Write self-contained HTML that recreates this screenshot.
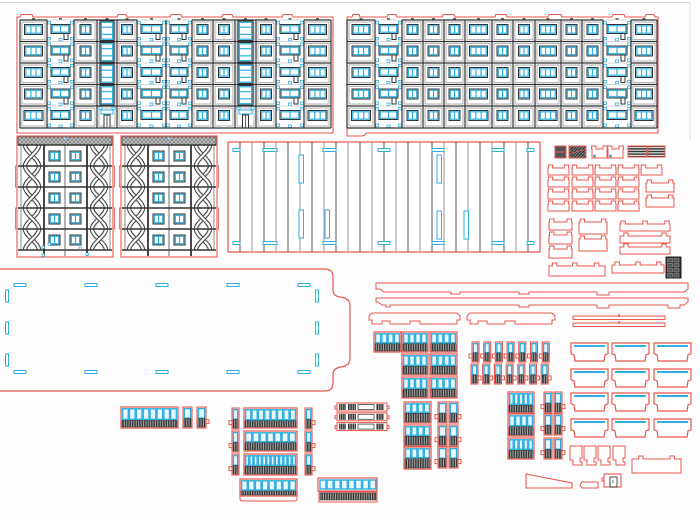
<!DOCTYPE html>
<html><head><meta charset="utf-8">
<style>html,body{margin:0;padding:0;background:#fdfdfd;width:700px;height:515px;overflow:hidden}svg{display:block}</style>
</head><body>
<svg id="s" width="700" height="515" viewBox="0 0 700 515" xmlns="http://www.w3.org/2000/svg">
<defs>
<pattern id="rail" width="2.4" height="40" patternUnits="userSpaceOnUse"><rect width="2.4" height="40" fill="#3a3a3a"/><rect x="1.4" width="0.9" height="40" fill="#b0b0b0"/></pattern>
<pattern id="hatch" width="4" height="4" patternUnits="userSpaceOnUse"><rect width="4" height="4" fill="#c4c4c4"/><path d="M0,4L4,0M0,0L4,4" stroke="#666" stroke-width="0.6"/></pattern>
<pattern id="stripe" width="4" height="2.6" patternUnits="userSpaceOnUse"><rect width="4" height="2.6" fill="#ddd"/><rect width="4" height="1.4" fill="#333"/></pattern>
<pattern id="diag" width="3" height="3" patternUnits="userSpaceOnUse"><rect width="3" height="3" fill="#777"/><path d="M0,3L3,0" stroke="#222" stroke-width="0.8"/></pattern>
</defs>
<g id="g"></g>
</svg>
<script>
const R='#e9564e',C='#2fb0e0',D='#333';
let s='';
const r=(x,y,w,h,st,sw,f)=>{s+=`<rect x="${x}" y="${y}" width="${w}" height="${h}" fill="${f||'none'}" stroke="${st||'none'}" stroke-width="${sw||1}"/>`};
const l=(x1,y1,x2,y2,st,sw)=>{s+=`<line x1="${x1}" y1="${y1}" x2="${x2}" y2="${y2}" stroke="${st}" stroke-width="${sw||1}"/>`};
const p=(d,st,sw,f)=>{s+=`<path d="${d}" fill="${f||'none'}" stroke="${st||'none'}" stroke-width="${sw||1}"/>`};

function win(x,y,w,h,n){r(x,y,w,h,D,1,'#fff');r(x+1.3,y+1.3,w-2.6,h-2.6,C,1.2);for(let i=1;i<n;i++){const xx=x+1.3+i*(w-2.6)/n;l(xx,y+1.3,xx,y+h-1.3,C,1.2);}}

l(0,2.5,690,2.5,'#d6d6d6',1);l(690,2.5,690,140,'#e0e0e0',1);

function facade(xs,ys,types){
  const y0=ys[0],y1=ys[ys.length-1];
  for(let i=0;i<xs.length-1;i++){
    const x=xs[i],w=xs[i+1]-x,t=types[i];
    r(x+w/2-1.5,y0-2,3,2,null,0,'#666');
    for(let j=0;j<ys.length-1;j++){
      const y=ys[j],h=ys[j+1]-y,last=(j===ys.length-2);
      if(t!=='s'){r(x+2,y+2,w-4,h-4,'#b8b8b8',1.1);l(x,y,x+w,y,D,1.2);}
      if(t==='w3'||t==='w2'){
        let ww=t==='w3'?Math.min(w-9,18):Math.min(w-9,11);
        if(last&&t==='w3')ww=Math.min(w-8,19);
        win(x+(w-ww)/2,y+4.5,ww,10,t==='w3'?3:2);
      }else if(t==='s'){
        l(x,y,x+w,y,'#c8c8c8',0.8);
        win(x+4,y+4.5,w-8,9,2);
        if(!last)r(x+w-10,y+13.5,4,6,D,1,'#fff');
        [[x+0.5,y+1.5],[x+w-3.5,y+1.5],[x+0.5,y+h-4],[x+w-3.5,y+h-4],[x+w/2-1.5,y+h-3]].forEach(([a,b])=>r(a,b,3,2.4,C,0.8,'#fff'));
      }else if(t==='st'){
        if(last){
          r(x+4,y+4,w-8,4,C,1,'#fff');
          r(x+w/2-3,y+9,6,h-9,D,1,'#fff');l(x+w/2,y+9,x+w/2,y+h,D,0.8);
          r(x+2,y+1,3,2.4,C,0.8,'#fff');r(x+w-5,y+1,3,2.4,C,0.8,'#fff');
        }else{
          r(x+3,y+1,w-6,h-2,D,1,'#fff');r(x+4.3,y+2.3,w-8.6,h-4.6,C,1.3);
          l(x+4,y+h/3,x+w-4,y+h/3,C,1.2);l(x+4,y+2*h/3,x+w-4,y+2*h/3,C,1.2);
        }
      }
    }
  }
  for(const x of xs)l(x,y0,x,y1,D,1.2);
  l(xs[0],y1,xs[xs.length-1],y1,D,1.2);
}

(function(){
  let d='M17,133 V17';
  [[20,33],[117,127],[170,182],[222,233],[282,293]].forEach(([a,b])=>{d+=` H${a} L${a+1},14.5 H${b-1} L${b},17`;});
  d+=' H333 V133 Z';
  p(d,R,1.1,'#fff');
  facade([20,47,74,97,117,137,166,192,213,235,256,276,304,331],[20,41.5,63,84.5,106,128],
    ['w3','s','w2','st','w2','s','s','w2','w2','st','w2','s','w3']);
})();

(function(){
  let d='M347,136 V17';
  [[352,360],[387,397],[442,455],[495,507],[548,562],[612,625],[645,655]].forEach(([a,b])=>{d+=` H${a} L${a+1},14.5 H${b-1} L${b},17`;});
  d+=' H658 V133 H366 Q365,136 362,136 Z';
  p(d,R,1.1,'#fff');
  facade([347,375,402,423,444,465,492,513,535,561,582,603,631,657],[20,41.5,63,84.5,106,128],
    ['w3','s','w2','w2','w2','w3','w2','w2','w3','w2','w2','s','w3']);
})();

function tower(x0,dots){
  const x1=x0+94,ys=[145,166,187,208,229,250];
  r(x0-1,136,96,121,R,1.1,'#fff');
  r(x0-2.5,166,1.5,21,R,0.8);r(x1+1,166,1.5,21,R,0.8);r(x0-2.5,208,1.5,21,R,0.8);r(x1+1,208,1.5,21,R,0.8);
  r(x0,137,94,8,'#555',0.8,'url(#hatch)');
  r(x0+46,137.5,2,2,C,0.6,'#fff');
  const braid=(a,b)=>{
    const h=21,k=7;
    const c1=[],c2=[];
    for(let j=0;j<5;j++){
      const y=145+j*h;
      const A=j%2?b:a,B=j%2?a:b;
      c1.push(`M${A},${y} C${A},${y+k} ${B},${y+h-k} ${B},${y+h}`);
      c2.push(`M${B},${y} C${B},${y+k} ${A},${y+h-k} ${A},${y+h}`);
    }
    [c1,c2].forEach(c=>{p(c.join(' '),'#4a4a4a',4.4);p(c.join(' '),'#fff',2.2);});
  };
  braid(x0+7,x0+21);braid(x0+74,x0+88);
  l(x0+3,145,x0+3,250,'#888',1);l(x1-2,145,x1-2,250,'#888',1);
  l(x0+26,145,x0+26,256,D,1.8);l(x0+47,145,x0+47,256,'#777',1.1);l(x0+69,145,x0+69,256,D,1.8);
  for(let j=0;j<5;j++){const y=ys[j];win(x0+31,y+6,11,10,2);win(x0+52,y+6,11,10,2);}
  ys.forEach(y=>l(x0,y,x1,y,D,1.6));
  if(dots){[[x0+24,246],[x0+30,243],[x0+24,254],[x0+61,247],[x0+68,253]].forEach(([a,b])=>r(a,b,2.4,2.4,C,0.7,'#fff'));}
}
tower(18,true);tower(122,false);

r(228,142,312,110,R,1.2,'#fff');
for(let i=0;i<25;i++){const x=240+i*12;l(x,142,x,252,i%2?'#a0a0a0':'#606060',1.1);}
[[233,240],[263,277],[323,336],[378,390],[432,444],[492,504],[527,534]].forEach(([a,b])=>{r(a,148.5,b-a,3,C,1,'#fff');r(a,241.5,b-a,3,C,1,'#fff');});
[[299,155],[299,210],[325,210],[437,155],[437,211],[464,211]].forEach(([x,y])=>r(x,y,4.5,28,C,1,'#fff'));

p('M-2,269 H325 Q333,269 333,277 V290 Q333,296 340,297 Q350,298 350,306 V358 Q350,366 341,367 Q333,368 333,375 V383 Q333,391 325,391 H-2',R,1.2);
[20,91,162,233,304].forEach(c=>{r(c-6,283.5,12,3,C,1,'#fff');r(c-6,370.5,12,3,C,1,'#fff');});
[296,328,360].forEach(c=>{r(5.5,c-6,3,12,C,1,'#fff');r(315.5,c-6,3,12,C,1,'#fff');});

function tab(x,y,w,h,tabs){
  tabs=tabs||[0.12,0.88];
  let d=`M${x},${y+3}`;
  tabs.forEach(t=>{const cx=x+w*t;d+=` H${cx-2.2} V${y} H${cx+2.2} V${y+3}`;});
  d+=` H${x+w} V${y+h} H${x} Z`;
  p(d,R,1,'#fff');
}
r(555,146,11,12,R,1,'#555');l(555,152,566,152,R,1);
r(569,146,17,12,R,1,'url(#diag)');l(569,154,586,149,R,0.8);
tab(592,146,15,12);tab(608,146,15,12);
r(593.5,155,2,2,C,0.6,C);r(609.5,155,2,2,C,0.6,C);
r(628,146,19,11,R,1,'url(#stripe)');r(648,146,17,11,R,1,'url(#stripe)');
[548,572,595,618,641].forEach(x=>tab(x,165,21,10));
[177,189,201].forEach(y=>[548,572,595,618].forEach(x=>tab(x,y,21,10)));
tab(646,180,28,12);tab(646,195,28,12);
tab(549,219,23,11);tab(549,232,23,12);tab(549,246,23,12);
tab(579,219,28,15);tab(579,236,28,15);
tab(620,221,50,10,[0.06,0.5,0.94]);tab(620,233,50,10);tab(620,244,50,10);
tab(549,263,56,13,[0.1,0.46,0.85]);tab(612,262,52,11,[0.1,0.5,0.9]);
r(666,257,15,21,'#222',1,'#2a2a2a');
for(let j=0;j<4;j++){r(667.5,258.5+j*5,5,3.5,'#999',0.6,'#555');r(674,258.5+j*5,5,3.5,'#999',0.6,'#555');}

p('M376,283 H688 L688,289 L684,292 H609 V295 H597 V292 H529 V294 H519 V292 H460 V294 H451 V292 H384 L380,289 H376 Z',R,1);
p('M376,298 H688 L688,302 L684,305 H680 V308 H668 V305 H609 V308 H597 V305 H529 V307 H519 V305 H390 V307 H386 V305 H382 L378,302 H376 Z',R,1);
p('M372,313 H457 L460,316 V320 L457,320 V324 H420 V321 H410 V324 H390 V321 H382 V324 H372 V320 H369 V316 Z',R,1);
p('M470,313 H552 L555,316 V320 L552,320 V324 H515 V321 H505 V324 H487 V321 H478 V324 H470 V320 H467 V316 Z',R,1);
r(573,316,92,3.5,R,1);r(573,323,92,3.5,R,1);l(619,314,619,317,R,1.5);l(619,321,619,324,R,1.5);

function balc(x,y,w,h,n,wf){
  wf=wf||0.5;
  r(x,y,w,h,R,1.2,'#fff');
  const cw=(w-2)/n;
  for(let i=0;i<n;i++)r(x+1.6+i*cw,y+1.8,cw-1.2,h*wf-1,C,1.4,'#e9f7fc');
  r(x+1,y+h*wf+1.8,w-2,h*(1-wf)-2.8,'#333',0.5,'url(#rail)');
}
function narrow(x,y,w,h,side){
  r(x,y,w,h,R,1.1,'#fff');
  r(x+1.4,y+1.6,w-2.8,h*0.5-1,C,1.3,'#e9f7fc');
  r(x+1,y+h*0.55,w-2,h*0.45-1,'#333',0.5,'url(#rail)');
  if(side==='l')p(`M${x},${y+h*0.6} h-3 v4 h3`,R,1);
  if(side==='r')p(`M${x+w},${y+h*0.6} h3 v4 h-3`,R,1);
}
balc(374,332,27,20,4);balc(402,332,26,20,4);balc(430,332,27,20,4);
balc(402,354,26,21,4);balc(430,354,27,21,4);
balc(402,377,26,21,4);balc(430,377,27,21,4);
balc(404,402,27,21,4,0.45);balc(404,425,27,21,4,0.45);balc(404,447,27,22,4,0.45);
[402,425,447].forEach(y=>{narrow(438,y,9,21,'l');narrow(449,y,9,21,'r');});

for(let k=0;k<7;k++){const x=472+k*11.7;narrow(x,342,7,20,'l');narrow(x-1,364,7,20,'r');}

balc(508,392,26,21,5,0.55);balc(508,414,26,22,4,0.5);balc(508,438,26,21,5,0.5);
[392,414,438].forEach(y=>{narrow(544,y,8,21,'l');narrow(554,y,8,21,'r');});

function basin(x,y,w,h){
  const m=y+h*0.6;
  p(`M${x},${y} H${x+w} V${m} L${x+w-3},${m+1} L${x+w-4},${y+h} H${x+4} L${x+3},${m+1} L${x},${m} Z`,R,1.2,'#fff');
  l(x+3,y+3,x+w-3,y+3,C,2);
}
[343,369,393,419].forEach(y=>[571,612,654].forEach(x=>basin(x,y,37,18)));
[570,584,598,613].forEach(x=>p(`M${x},446 H${x+12} V458 H${x+10} V462 H${x+12} V465 H${x+3} V460 H${x} Z`,R,1,'#fff'));
tab(632,456,49,17,[0.18,0.82]);
p('M526,474 L572,483 V488 H526 Z',R,1.1);
p('M582,482 H598 V488 H582 L580,485 Z',R,1);
r(604,474,17,13,R,1.1,'#fff');p('M604,478 h-2 v3 h2',R,1);r(610,477,7,10,D,0.9);l(613,480,613,483,D,0.8);

balc(121,407,57,21,8,0.55);
narrow(183,407,9,21,'n');narrow(197,407,9,21,'r');
[408,431,454].forEach(y=>{narrow(232,y,7,21,'l');narrow(305,y,7,21,'r');});
balc(244,408,53,20,8,0.55);balc(244,431,53,20,7,0.5);balc(244,454,53,21,12,0.5);
balc(240,479,57,17,8,0.6);p('M240,496 V499 Q240,501 243,501 H294 Q297,501 297,499 V496',R,1);
r(318,478,59,13,R,1.2,'#fff');for(let i=0;i<8;i++)r(320+i*7.1,480,6,9,C,1.4,'#e9f7fc');
r(320,493,56,7,'#333',0.5,'url(#rail)');r(319,492,58,10,R,1);
for(let j=0;j<3;j++){const y=403+j*9.8;
  r(337,y,50,8,R,1,'#fff');r(339,y+1,7,6,null,0,'url(#rail)');r(348,y+1,8,6,null,0,'url(#rail)');
  r(358,y+1.5,16,5,'#444',0.8,'#fff');r(376,y+1,8,6,null,0,'url(#rail)');
  p(`M337,${y+3} h-2 v3 h2`,R,1);p(`M387,${y+3} h2 v3 h-2`,R,1);}

document.getElementById('g').innerHTML=s;
</script>
</body></html>
